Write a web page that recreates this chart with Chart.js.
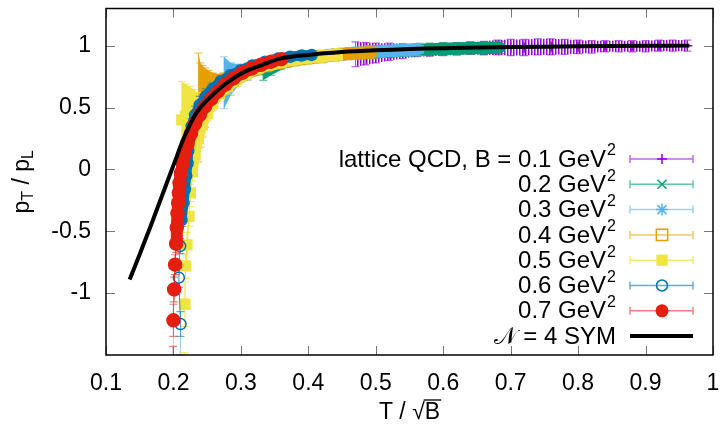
<!DOCTYPE html>
<html>
<head>
<meta charset="utf-8">
<script src="https://cdn.jsdelivr.net/npm/chart.js@4.4.1/dist/chart.umd.min.js"></script>
<style>
html,body{margin:0;padding:0;background:#fff}
#wrap{width:722px;height:427px}
</style>
</head>
<body>
<div id="wrap"><canvas id="c" width="722" height="427"></canvas></div>
<script>
// axis ticks
const xTicks = [0.1, 0.2, 0.3, 0.4, 0.5, 0.6, 0.7, 0.8, 0.9, 1];
const xTickLabels = ["0.1", "0.2", "0.3", "0.4", "0.5", "0.6", "0.7", "0.8", "0.9", "1"];
const yTicks = [-1, -0.5, 0, 0.5, 1];
const yTickLabels = ["-1", "-0.5", "0", "0.5", "1"];

// lattice QCD, x = T/sqrt(B), y = pT/pL, e = error on y
const b01X = [0.470, 0.485, 0.50, 0.52, 0.54, 0.56, 0.58, 0.60, 0.62, 0.64, 0.66, 0.68, 0.70, 0.72, 0.74, 0.76, 0.78, 0.80, 0.82, 0.84, 0.86, 0.88, 0.90, 0.92, 0.94, 0.962];
const b01Y = [0.93, 0.935, 0.94, 0.95, 0.955, 0.96, 0.965, 0.97, 0.975, 0.98, 0.98, 0.985, 0.985, 0.985, 0.99, 0.99, 0.99, 0.99, 0.99, 0.995, 0.995, 0.995, 0.995, 1.0, 1.0, 1.0];
const b01E = [0.10, 0.09, 0.08, 0.07, 0.06, 0.05, 0.05, 0.05, 0.05, 0.05, 0.055, 0.06, 0.065, 0.065, 0.065, 0.065, 0.06, 0.055, 0.05, 0.045, 0.045, 0.045, 0.045, 0.045, 0.045, 0.045];

const b02X = [0.333, 0.345, 0.36, 0.38, 0.40, 0.42, 0.44, 0.46, 0.48, 0.50, 0.52, 0.54, 0.56, 0.58, 0.60, 0.62, 0.64, 0.66, 0.685];
const b02Y = [0.80, 0.83, 0.86, 0.885, 0.90, 0.915, 0.925, 0.935, 0.94, 0.948, 0.953, 0.96, 0.965, 0.97, 0.975, 0.975, 0.98, 0.98, 0.985];
const b02E = [0.08, 0.07, 0.055, 0.045, 0.045, 0.045, 0.045, 0.045, 0.045, 0.05, 0.05, 0.05, 0.05, 0.05, 0.05, 0.05, 0.05, 0.05, 0.05];

const b03X = [0.275, 0.285, 0.295, 0.31, 0.325, 0.34, 0.355, 0.37, 0.39, 0.41, 0.43, 0.45, 0.47, 0.49, 0.51, 0.53, 0.55, 0.565];
const b03Y = [0.70, 0.73, 0.76, 0.79, 0.82, 0.84, 0.86, 0.875, 0.895, 0.91, 0.92, 0.93, 0.94, 0.95, 0.955, 0.96, 0.965, 0.97];
const b03E = [0.21, 0.13, 0.09, 0.07, 0.06, 0.05, 0.05, 0.05, 0.05, 0.05, 0.05, 0.05, 0.05, 0.05, 0.05, 0.05, 0.05, 0.05];

const b04X = [0.237, 0.240, 0.243, 0.247, 0.252, 0.258, 0.265, 0.275, 0.29, 0.305, 0.32, 0.34, 0.36, 0.38, 0.40, 0.42, 0.44, 0.46, 0.48, 0.493];
const b04Y = [0.50, 0.52, 0.55, 0.58, 0.61, 0.64, 0.67, 0.70, 0.74, 0.78, 0.81, 0.84, 0.865, 0.885, 0.90, 0.91, 0.925, 0.935, 0.94, 0.945];
const b04E = [0.44, 0.34, 0.29, 0.24, 0.19, 0.14, 0.10, 0.08, 0.065, 0.06, 0.055, 0.05, 0.05, 0.05, 0.05, 0.05, 0.05, 0.05, 0.05, 0.05];

const b05X = [0.2125, 0.218, 0.224, 0.230, 0.236, 0.2165, 0.217, 0.218, 0.220, 0.223, 0.225, 0.228, 0.232, 0.237, 0.243, 0.25, 0.258, 0.268, 0.28, 0.294, 0.31, 0.326, 0.343, 0.36, 0.38, 0.40, 0.42, 0.443];
const b05Y = [0.40, 0.43, 0.46, 0.49, 0.51, -1.60, -1.09, -0.78, -0.61, -0.38, -0.19, -0.02, 0.12, 0.25, 0.36, 0.45, 0.53, 0.61, 0.67, 0.73, 0.78, 0.82, 0.85, 0.87, 0.89, 0.905, 0.915, 0.925];
const b05E = [0.31, 0.26, 0.21, 0.155, 0.11, 0.12, 0.18, 0.10, 0.10, 0.08, 0.07, 0.07, 0.10, 0.08, 0.07, 0.06, 0.06, 0.06, 0.06, 0.06, 0.055, 0.05, 0.05, 0.05, 0.05, 0.05, 0.05, 0.05];

const b06X = [0.2095, 0.2105, 0.208, 0.210, 0.212, 0.215, 0.217, 0.219, 0.221, 0.222, 0.224, 0.227, 0.232, 0.239, 0.248, 0.258, 0.27, 0.284, 0.30, 0.317, 0.336, 0.355, 0.373, 0.39, 0.405];
const b06Y = [-1.60, -1.25, -0.875, -0.62, -0.41, -0.27, -0.16, -0.05, 0.05, 0.15, 0.25, 0.35, 0.44, 0.52, 0.59, 0.65, 0.71, 0.76, 0.80, 0.84, 0.87, 0.895, 0.91, 0.92, 0.925];
const b06E = [0.10, 0.10, 0.08, 0.06, 0.05, 0.04, 0.04, 0.04, 0.04, 0.04, 0.05, 0.06, 0.07, 0.07, 0.06, 0.05, 0.045, 0.04, 0.04, 0.035, 0.035, 0.035, 0.035, 0.035, 0.035];

const b07X = [0.1995, 0.200, 0.201, 0.2025, 0.204, 0.205, 0.206, 0.207, 0.208, 0.209, 0.211, 0.214, 0.217, 0.221, 0.226, 0.232, 0.239, 0.247, 0.256, 0.266, 0.277, 0.289, 0.302, 0.316, 0.330, 0.345, 0.360];
const b07Y = [-1.58, -1.22, -0.97, -0.77, -0.60, -0.47, -0.355, -0.27, -0.19, -0.11, -0.03, 0.045, 0.125, 0.21, 0.29, 0.37, 0.44, 0.51, 0.57, 0.63, 0.685, 0.735, 0.78, 0.815, 0.845, 0.87, 0.89];
const b07E = [0.15, 0.13, 0.10, 0.08, 0.07, 0.06, 0.05, 0.04, 0.04, 0.03, 0.03, 0.03, 0.03, 0.03, 0.03, 0.03, 0.03, 0.03, 0.03, 0.03, 0.03, 0.03, 0.03, 0.03, 0.03, 0.03, 0.03];

// N = 4 SYM curve
const symX = [0.135, 0.145, 0.155, 0.165, 0.175, 0.185, 0.195, 0.205, 0.212, 0.22, 0.23, 0.24, 0.254, 0.27, 0.29, 0.31, 0.33, 0.358, 0.40, 0.45, 0.50, 0.55, 0.60, 0.70, 0.80, 0.90, 0.965];
const symY = [-0.89, -0.755, -0.615, -0.475, -0.33, -0.185, -0.04, 0.105, 0.21, 0.31, 0.42, 0.50, 0.58, 0.66, 0.74, 0.80, 0.84, 0.895, 0.925, 0.948, 0.962, 0.972, 0.979, 0.988, 0.994, 0.998, 1.0];

const legendText = ["lattice QCD, B = 0.1 GeV", "0.2 GeV", "0.3 GeV", "0.4 GeV", "0.5 GeV", "0.6 GeV", "0.7 GeV"];

const FONT = '"Liberation Sans", Arial, Helvetica, sans-serif';
const FS = 23;
const canvas = document.getElementById("c");

// vertical hatching like dense gnuplot error bars
function hatch(color){
  const p = document.createElement("canvas");
  p.width = 3; p.height = 4;
  const g = p.getContext("2d");
  g.fillStyle = color;
  g.globalAlpha = 1; g.fillRect(0, 0, 1, 4);
  g.globalAlpha = 0.5; g.fillRect(1, 0, 1, 4);
  return canvas.getContext("2d").createPattern(p, "repeat");
}

const series = [
  {x: b01X, y: b01Y, e: b01E, color: "#9400d3", bar: "rgba(148,0,211,0.6)", band: hatch("#9400d3"), marker: "cross", r: 5, lw: 1.5},
  {x: b02X, y: b02Y, e: b02E, color: "#009e73", bar: "rgba(0,158,115,0.6)", band: "#009e73", marker: "crossRot", r: 6, lw: 10},
  {x: b03X, y: b03Y, e: b03E, color: "#56b4e9", bar: "rgba(86,180,233,0.6)", band: "#56b4e9", marker: "star", r: 6, lw: 10},
  {x: b04X, y: b04Y, e: b04E, color: "#e69f00", bar: "rgba(230,159,0,0.6)", band: "#e69f00", marker: "rect", r: 7, lw: 10},
  {x: b05X, y: b05Y, e: b05E, color: "#f0e442", bar: "rgba(240,228,66,0.75)", band: "#f0e442", marker: "rectFill", r: 7, lw: 10},
  {x: b06X, y: b06Y, e: b06E, color: "#0072b2", bar: "rgba(0,114,178,0.6)", band: "#0072b2", marker: "circle", r: 5.5, lw: 10},
  {x: b07X, y: b07Y, e: b07E, color: "#e51e10", bar: "rgba(229,30,16,0.55)", band: "#e51e10", marker: "circleFill", r: 6.5, lw: 12}
];

const styleMap = {cross: "cross", crossRot: "crossRot", star: "star", rect: "rect", rectFill: "rect", circle: "circle", circleFill: "circle"};
const far = (a, b, lim) => Math.hypot(b[0] - a[0], b[1] - a[1]) > lim;

const datasets = series.map((s, i) => ({
  label: legendText[i],
  data: s.x.map((v, k) => ({x: v, y: s.y[k]})),
  errs: s.e,
  bandFill: s.band,
  barColor: s.bar,
  showLine: true,
  borderColor: s.color,
  borderWidth: s.lw,
  borderCapStyle: "round",
  borderJoinStyle: "round",
  segment: {
    borderColor: c => far([c.p0.x, c.p0.y], [c.p1.x, c.p1.y], 18) ? "rgba(0,0,0,0)" : undefined
  },
  pointStyle: styleMap[s.marker],
  pointRadius: s.r,
  pointBorderWidth: 1.5,
  pointBorderColor: s.color,
  pointBackgroundColor: (s.marker === "rectFill" || s.marker === "circleFill") ? s.color : "rgba(0,0,0,0)",
  order: 10 - i
}));

datasets.push({
  label: "N = 4 SYM",
  data: symX.map((v, k) => ({x: v, y: symY[k]})),
  showLine: true,
  borderColor: "#000",
  borderWidth: 4,
  tension: 0.3,
  pointRadius: 0,
  order: 0
});

// envelope + error bars, drawn just before each series
const errorBars = {
  id: "errorBars",
  beforeDatasetDraw(chart, args){
    const ds = chart.data.datasets[args.index];
    if(!ds.errs) return;
    const {ctx, chartArea: a, scales: {x, y}} = chart;
    ctx.save();
    ctx.beginPath();
    ctx.rect(a.left, a.top, a.right - a.left, a.bottom - a.top);
    ctx.clip();
    const mid = ds.data.map(p => [x.getPixelForValue(p.x), y.getPixelForValue(p.y)]);
    const up = ds.data.map((p, k) => [mid[k][0], y.getPixelForValue(p.y + ds.errs[k])]);
    const lo = ds.data.map((p, k) => [mid[k][0], y.getPixelForValue(p.y - ds.errs[k])]);
    // band between neighbouring error bars (skip big jumps)
    ctx.beginPath();
    for(let k = 0; k < mid.length - 1; k++){
      if(far(mid[k], mid[k + 1], 50)) continue;
      ctx.moveTo(up[k][0], up[k][1]);
      ctx.lineTo(up[k + 1][0], up[k + 1][1]);
      ctx.lineTo(lo[k + 1][0], lo[k + 1][1]);
      ctx.lineTo(lo[k][0], lo[k][1]);
      ctx.closePath();
    }
    ctx.fillStyle = ds.bandFill;
    ctx.fill();
    ctx.strokeStyle = ds.barColor;
    ctx.lineWidth = 1.2;
    ctx.beginPath();
    up.forEach((p, k) => {
      const px = p[0], y1 = p[1], y2 = lo[k][1];
      ctx.moveTo(px, y1); ctx.lineTo(px, y2);
      ctx.moveTo(px - 4, y1); ctx.lineTo(px + 4, y1);
      ctx.moveTo(px - 4, y2); ctx.lineTo(px + 4, y2);
    });
    ctx.stroke();
    ctx.restore();
  }
};

function marker(ctx, kind, cx, cy, r, color){
  ctx.save();
  ctx.strokeStyle = color; ctx.fillStyle = color; ctx.lineWidth = 1.5;
  ctx.beginPath();
  if(kind === "cross"){ ctx.moveTo(cx - r, cy); ctx.lineTo(cx + r, cy); ctx.moveTo(cx, cy - r); ctx.lineTo(cx, cy + r); ctx.stroke(); }
  else if(kind === "crossRot"){ const d = r * 0.75; ctx.moveTo(cx - d, cy - d); ctx.lineTo(cx + d, cy + d); ctx.moveTo(cx + d, cy - d); ctx.lineTo(cx - d, cy + d); ctx.stroke(); }
  else if(kind === "star"){ const d = r * 0.75; ctx.moveTo(cx - r, cy); ctx.lineTo(cx + r, cy); ctx.moveTo(cx, cy - r); ctx.lineTo(cx, cy + r); ctx.moveTo(cx - d, cy - d); ctx.lineTo(cx + d, cy + d); ctx.moveTo(cx + d, cy - d); ctx.lineTo(cx - d, cy + d); ctx.stroke(); }
  else if(kind === "rect"){ const h = r * Math.SQRT1_2; ctx.rect(cx - h, cy - h, 2 * h, 2 * h); ctx.stroke(); }
  else if(kind === "rectFill"){ const h = r * Math.SQRT1_2; ctx.rect(cx - h, cy - h, 2 * h, 2 * h); ctx.fill(); }
  else if(kind === "circle"){ ctx.arc(cx, cy, r, 0, Math.PI * 2); ctx.stroke(); }
  else if(kind === "circleFill"){ ctx.arc(cx, cy, r, 0, Math.PI * 2); ctx.fill(); }
  ctx.restore();
}

// frame, inward ticks, axis titles, key
const decor = {
  id: "decor",
  afterDraw(chart){
    const {ctx, chartArea: a, scales: {x, y}} = chart;
    ctx.save();
    ctx.strokeStyle = "#777"; ctx.lineWidth = 1;
    ctx.beginPath();
    xTicks.forEach(v => {
      const px = Math.round(x.getPixelForValue(v)) + 0.5;
      ctx.moveTo(px, a.bottom); ctx.lineTo(px, a.bottom - 9);
      ctx.moveTo(px, a.top); ctx.lineTo(px, a.top + 9);
    });
    yTicks.forEach(v => {
      const py = Math.round(y.getPixelForValue(v)) + 0.5;
      ctx.moveTo(a.left, py); ctx.lineTo(a.left + 9, py);
      ctx.moveTo(a.right, py); ctx.lineTo(a.right - 9, py);
    });
    ctx.stroke();
    ctx.strokeStyle = "#000"; ctx.lineWidth = 1.5;
    ctx.strokeRect(a.left, a.top, a.right - a.left, a.bottom - a.top);

    ctx.fillStyle = "#000";
    const big = FS + "px " + FONT, small = "16px " + FONT;
    // y title: p_T / p_L
    ctx.save();
    ctx.translate(23, (a.top + a.bottom) / 2);
    ctx.rotate(-Math.PI / 2);
    const parts = [["p", big, 0], ["T", small, 6], [" / p", big, 0], ["L", small, 6]];
    let w = 0;
    parts.forEach(p => { ctx.font = p[1]; w += ctx.measureText(p[0]).width; });
    let cx = -w / 2;
    ctx.textBaseline = "middle";
    parts.forEach(p => { ctx.font = p[1]; ctx.fillText(p[0], cx, p[2]); cx += ctx.measureText(p[0]).width; });
    ctx.restore();

    // x title: T / sqrt(B)
    ctx.font = big;
    ctx.textBaseline = "alphabetic";
    const t1 = "T / \u221A", t2 = "B";
    const w1 = ctx.measureText(t1).width, w2 = ctx.measureText(t2).width;
    const x0 = (a.left + a.right) / 2 - (w1 + w2) / 2, yb = 419;
    ctx.fillText(t1, x0, yb);
    ctx.fillText(t2, x0 + w1, yb);
    ctx.lineWidth = 1.3;
    ctx.beginPath();
    ctx.moveTo(x0 + w1 - 1, yb - 19); ctx.lineTo(x0 + w1 + w2 + 1, yb - 19);
    ctx.stroke();

    // key
    const rowY = [159, 184.3, 209.6, 234.9, 260.2, 285.5, 310.8, 336];
    const textRight = 616, sx0 = 630, sx1 = 693, sxm = 662;
    const keyFont = "24px " + FONT, supFont = "16px " + FONT;
    series.forEach((s, i) => {
      const yy = rowY[i];
      ctx.font = supFont;
      const sw = ctx.measureText("2").width;
      ctx.textAlign = "left"; ctx.textBaseline = "middle";
      ctx.fillText("2", textRight - sw, yy - 8);
      ctx.font = keyFont; ctx.textAlign = "right";
      ctx.fillText(legendText[i], textRight - sw - 1, yy + 1);
      ctx.strokeStyle = s.bar; ctx.lineWidth = 1.5;
      ctx.beginPath();
      ctx.moveTo(sx0, yy); ctx.lineTo(sx1, yy);
      ctx.moveTo(sx0, yy - 4); ctx.lineTo(sx0, yy + 4);
      ctx.moveTo(sx1, yy - 4); ctx.lineTo(sx1, yy + 4);
      ctx.stroke();
      marker(ctx, s.marker, sxm, yy, s.marker.startsWith("rect") ? 8 : s.r, s.color);
    });
    const ly = rowY[7];
    ctx.font = keyFont; ctx.textAlign = "right"; ctx.textBaseline = "middle";
    ctx.fillText("\uD835\uDCA9 = 4 SYM", textRight, ly + 1);
    ctx.strokeStyle = "#000"; ctx.lineWidth = 4;
    ctx.beginPath(); ctx.moveTo(sx0, ly); ctx.lineTo(sx1, ly); ctx.stroke();
    ctx.restore();
  }
};

function noPad(s){ s.paddingLeft = 0; s.paddingRight = 0; s.paddingTop = 0; s.paddingBottom = 0; }

new Chart(canvas, {
  type: "scatter",
  data: {datasets},
  options: {
    responsive: false,
    animation: false,
    layout: {padding: {left: 0, right: 9, top: 7, bottom: 0}},
    plugins: {legend: {display: false}, tooltip: {enabled: false}},
    scales: {
      x: {
        type: "linear", min: 0.1, max: 1,
        afterBuildTicks: s => { s.ticks = xTicks.map(v => ({value: v})); },
        afterFit: s => { s.height = 72; noPad(s); },
        grid: {display: false, drawTicks: false},
        border: {display: false},
        ticks: {
          color: "#000", font: {family: FONT, size: FS}, padding: 15, maxRotation: 0, autoSkip: false,
          callback: (v, k) => xTickLabels[k]
        }
      },
      y: {
        type: "linear", min: -1.5, max: 1.3,
        afterBuildTicks: s => { s.ticks = yTicks.map(v => ({value: v})); },
        afterFit: s => { s.width = 106; noPad(s); },
        grid: {display: false, drawTicks: false},
        border: {display: false},
        ticks: {
          color: "#000", font: {family: FONT, size: FS}, padding: 15, autoSkip: false,
          callback: (v, k) => yTickLabels[k]
        }
      }
    }
  },
  plugins: [errorBars, decor]
});
</script>
</body>
</html>
